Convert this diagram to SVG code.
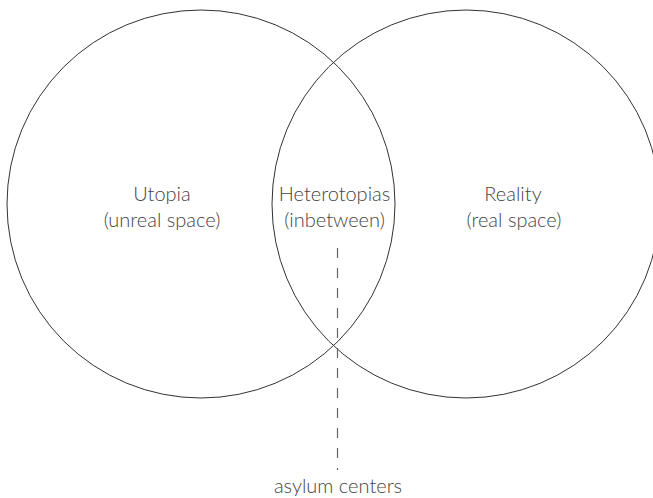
<svg xmlns="http://www.w3.org/2000/svg" width="653" height="498" viewBox="0 0 653 498">
  <style>
    .set { fill: none; stroke: #333; stroke-width: 1; }
    .label { font-family: "Source Sans Pro", "Lato", "Open Sans", sans-serif; font-weight: 300; font-size: 20px; fill: #444; text-anchor: middle; }
    .leader { stroke: #666; stroke-width: 1.2; stroke-dasharray: 10 10; fill: none; }
  </style>
  <rect width="653" height="498" fill="#fff"/>
  <g id="utopia">
    <circle class="set" cx="201" cy="204" r="194"/>
    <text class="label" x="162" y="201">Utopia</text>
    <text class="label" x="162" y="227">(unreal space)</text>
  </g>
  <g id="reality">
    <circle class="set" cx="466" cy="204" r="194"/>
    <text class="label" x="513" y="201">Reality</text>
    <text class="label" x="514" y="227">(real space)</text>
  </g>
  <g id="heterotopias">
    <text class="label" x="334.5" y="201">Heterotopias</text>
    <text class="label" x="334.5" y="227">(inbetween)</text>
  </g>
  <g id="connectors">
    <line class="leader" x1="337.5" y1="248" x2="337.5" y2="470"/>
  </g>
  <g id="asylum-centers">
    <text class="label" x="338" y="493">asylum centers</text>
  </g>
</svg>
